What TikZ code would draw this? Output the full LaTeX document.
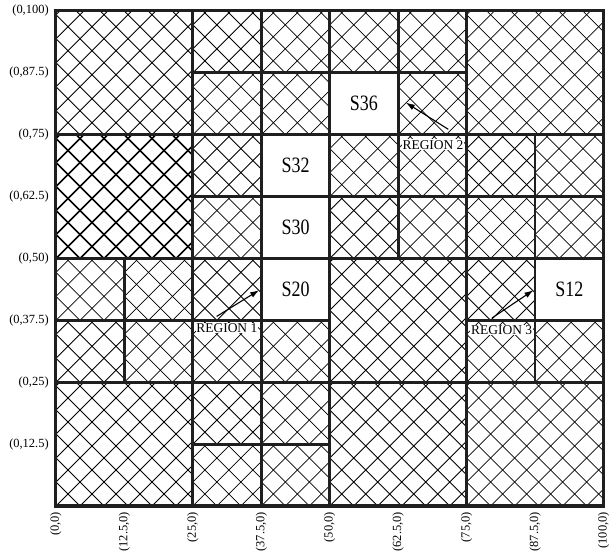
\documentclass[tikz,border=0pt]{standalone}
\usepackage{fontspec}
\setmainfont{Liberation Serif}
\usetikzlibrary{arrows.meta}
\tikzset{
  gridline/.style={line width=2.8bp, black!88},
  hatch/.style={line width=0.75bp, black},
  densehatch/.style={line width=1.45bp, black},
  axislabel/.style={font=\fontsize{12.5}{14}\selectfont, inner sep=0pt},
  slabel/.style={font=\fontsize{22}{24}\selectfont, xscale=0.82, inner sep=0pt},
  regionlabel/.style={font=\fontsize{13.5}{15}\selectfont, fill=white, inner sep=0.8bp},
  arr/.style={-{Latex[length=9bp,width=6bp]}, line width=1.1bp}
}
% #1 style, #2 period (bp), #3 #4 lower-left, #5 #6 upper-right (grid units)
\newcommand\hatchcell[6]{%
  \begin{scope}
    \clip (#3,#4) rectangle (#5,#6);
    \begin{scope}[shift={(#3,#4)}, x=1bp, y=1bp]
      \foreach \k in {-7,...,14} {
        \draw[#1] (\k*#2,0) -- ++(170,170);
        \draw[#1] (\k*#2,0) -- ++(-170,170);
      }
    \end{scope}
  \end{scope}}
\newcommand\hc[4]{\hatchcell{hatch}{24}{#1}{#2}{#3}{#4}}
\begin{document}
\begin{tikzpicture}[x=5.475bp,y=4.95bp]
\useasboundingbox (-10.228,-9.293) rectangle (101.187,102.222);
% ---- hatched cells ----
% row 75-100
\hc{0}{75}{25}{100}
\hc{25}{87.5}{37.5}{100} \hc{37.5}{87.5}{50}{100}
\hc{25}{75}{37.5}{87.5} \hc{37.5}{75}{50}{87.5}
\hc{50}{87.5}{62.5}{100} \hc{62.5}{87.5}{75}{100}
\hc{62.5}{75}{75}{87.5}
\hc{75}{75}{100}{100}
% row 50-75
\hatchcell{densehatch}{24}{0}{50}{25}{75}
\hc{25}{62.5}{37.5}{75} \hc{25}{50}{37.5}{62.5}
\hc{50}{62.5}{62.5}{75} \hc{62.5}{62.5}{75}{75}
\hc{50}{50}{62.5}{62.5} \hc{62.5}{50}{75}{62.5}
\hc{75}{62.5}{87.5}{75} \hc{87.5}{62.5}{100}{75}
\hc{75}{50}{87.5}{62.5} \hc{87.5}{50}{100}{62.5}
% row 25-50
\hc{0}{37.5}{12.5}{50} \hc{12.5}{37.5}{25}{50}
\hc{0}{25}{12.5}{37.5} \hc{12.5}{25}{25}{37.5}
\hc{25}{37.5}{37.5}{50}
\hc{25}{25}{37.5}{37.5} \hc{37.5}{25}{50}{37.5}
\hc{50}{25}{75}{50}
\hc{75}{37.5}{87.5}{50}
\hc{75}{25}{87.5}{37.5} \hc{87.5}{25}{100}{37.5}
% row 0-25
\hc{0}{0}{25}{25}
\hc{25}{12.5}{37.5}{25} \hc{37.5}{12.5}{50}{25}
\hc{25}{0}{37.5}{12.5} \hc{37.5}{0}{50}{12.5}
\hc{50}{0}{75}{25}
\hc{75}{0}{100}{25}
% ---- grid lines ----
\draw[gridline] (25,0) -- (25,100);
\draw[gridline] (50,0) -- (50,100);
\draw[gridline] (75,0) -- (75,100);
\draw[gridline] (0,25) -- (100,25);
\draw[gridline] (0,50) -- (100,50);
\draw[gridline] (0,75) -- (100,75);
\draw[gridline] (37.5,0) -- (37.5,100);
\draw[gridline] (12.5,25) -- (12.5,50);
\draw[gridline] (62.5,50) -- (62.5,100);
\draw[gridline] (87.5,25) -- (87.5,75);
\draw[gridline] (25,87.5) -- (75,87.5);
\draw[gridline] (25,62.5) -- (100,62.5);
\draw[gridline] (0,37.5) -- (50,37.5);
\draw[gridline] (75,37.5) -- (100,37.5);
\draw[gridline] (25,12.5) -- (50,12.5);
\draw[gridline, line width=3bp, line join=miter] (0,0) rectangle (100,100);
% ---- cell labels ----
\node[slabel] (s36) at (56.25,81.25) {S36};
\node[slabel] (s32) at (43.75,68.75) {S32};
\node[slabel] (s30) at (43.75,56.25) {S30};
\node[slabel] (s20) at (43.75,43.75) {S20};
\node[slabel] (s12) at (93.75,43.75) {S12};
% ---- axis labels ----
\foreach \v/\t [count=\i] in {100/{(0,100)},87.5/{(0,87.5)},75/{(0,75)},62.5/{(0,62.5)},50/{(0,50)},37.5/{(0,37.5)},25/{(0,25)},12.5/{(0,12.5)}}
  \node[axislabel, anchor=east] (yl\i) at (-1.3,\v) {\t};
\foreach \u/\t [count=\i] in {0/{(0,0)},12.5/{(12.5,0)},25/{(25,0)},37.5/{(37.5,0)},50/{(50,0)},62.5/{(62.5,0)},75/{(75,0)},87.5/{(87.5,0)},100/{(100,0)}}
  \node[axislabel, rotate=90, anchor=east, xshift=1bp] (xl\i) at (\u,-1.4) {\t};
% ---- region labels and arrows ----
\node[regionlabel] (r1) at (31.2,35.96) {REGION 1};
\node[regionlabel] (r2) at (68.86,73.0) {REGION 2};
\node[regionlabel] (r3) at (81.4,35.56) {REGION 3};
\coordinate (r1tail) at (29.35,38.3);
\coordinate (r1tip) at (37.1,43.6);
\coordinate (r2tail) at (71.65,76.1);
\coordinate (r2tip) at (63.9,81.5);
\coordinate (r3tail) at (79.6,37.95);
\coordinate (r3tip) at (87.2,43.6);
\draw[arr] (r1tail) -- (r1tip);
\draw[arr] (r2tail) -- (r2tip);
\draw[arr] (r3tail) -- (r3tip);
\end{tikzpicture}
\end{document}
